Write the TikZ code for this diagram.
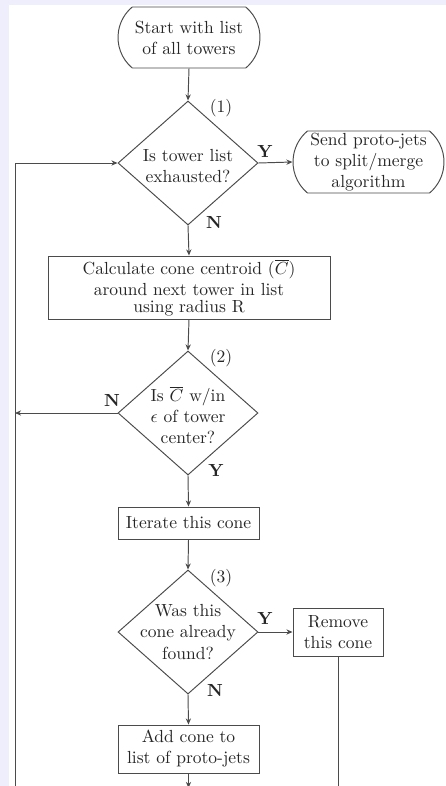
\documentclass[tikz,border=0pt]{standalone}
\usetikzlibrary{shapes.geometric,shapes.misc,arrows.meta}
\definecolor{lav}{RGB}{238,238,253}
\definecolor{ink}{RGB}{75,75,75}
\begin{document}
\begin{tikzpicture}[x=0.571pt,y=-0.571pt,
  line/.style={draw=ink,line width=0.55pt},
  arr/.style={line,-{Stealth[length=3.5pt,width=3pt]}},
  term/.style={rounded rectangle,rounded rectangle arc length=100,draw=ink,line width=0.55pt,inner sep=0pt,align=center,text=black!85},
  boxn/.style={rectangle,draw=ink,line width=0.55pt,inner sep=0pt,align=center,text=black!85},
  dia/.style={diamond,draw=ink,line width=0.55pt,inner sep=0pt,minimum width=140*0.571pt,minimum height=124*0.571pt},
  dtxt/.style={align=center,inner sep=0pt,text=black!85},
  lab/.style={inner sep=0pt,text=black!85},
  yn/.style={lab,font=\bfseries}]
\useasboundingbox (0,0) rectangle (446,786);
\clip (0,0) rectangle (446,786);
\fill[lav] (0,0) rectangle (446,786);
\fill[white] (9,5) rectangle (446,786);

% nodes
\node[term,minimum width=142*0.571pt,minimum height=61*0.571pt] (start) at (189,37.5) {Start with list\\of all towers};
\node[dia] (d1) at (188,163) {};
\node[dtxt] (d1t) at (188,166) {Is tower list\\exhausted?};
\node[term,minimum width=151*0.571pt,minimum height=62*0.571pt] (send) at (368.5,162) {Send proto-jets\\to split/merge\\algorithm};
\node[boxn,minimum width=282*0.571pt,minimum height=63*0.571pt] (calc) at (189,287.5) {Calculate cone centroid ($\overline{C}$)\\around next tower in list\\[-2.5pt]using radius R};
\node[dia] (d2) at (188,413) {};
\node[dtxt] (d2t) at (188,415) {Is $\overline{C}$ w/in\\$\epsilon$ of tower\\center?};
\node[boxn,minimum width=141*0.571pt,minimum height=32*0.571pt] (iter) at (188.5,523) {Iterate this cone};
\node[dia] (d3) at (188,632) {};
\node[dtxt] (d3t) at (188,632) {Was this\\cone already\\found?};
\node[boxn,minimum width=90*0.571pt,minimum height=48*0.571pt] (rem) at (338,632) {Remove\\this cone};
\node[boxn,minimum width=141*0.571pt,minimum height=48*0.571pt] (add) at (188.5,749) {Add cone to\\list of proto-jets};

% labels
\node[lab] (l1) at (221,108) {(1)};
\node[lab] (l2) at (221,358) {(2)};
\node[lab] (l3) at (221,578) {(3)};
\node[yn] (y1) at (265,151) {Y};
\node[yn] (n1) at (214,222) {N};
\node[yn] (n2) at (112,400) {N};
\node[yn] (y2) at (216,470) {Y};
\node[yn] (y3) at (265,618) {Y};
\node[yn] (n3) at (215,690) {N};

% free ends
\coordinate (lb) at (15,800);
\coordinate (lt) at (15,163);
\coordinate (lm) at (15,413);
\coordinate (ab) at (188.5,788);
\coordinate (rb) at (338,800);

% connectors
\draw[arr] (start.south) -- (d1.north);
\draw[arr] (d1.east) -- (send.west);
\draw[arr] (d1.south) -- (calc.north);
\draw[arr] (calc.south) -- (d2.north);
\draw[arr] (d2.west) -- (lm);
\draw[arr] (d2.south) -- (iter.north);
\draw[arr] (iter.south) -- (d3.north);
\draw[arr] (d3.east) -- (rem.west);
\draw[arr] (d3.south) -- (add.north);
\draw[arr] (add.south) -- (ab);
\draw[line] (rem.south) -- (rb);
\draw[arr] (lb) -- (lt) -- (d1.west);
\end{tikzpicture}
\end{document}
